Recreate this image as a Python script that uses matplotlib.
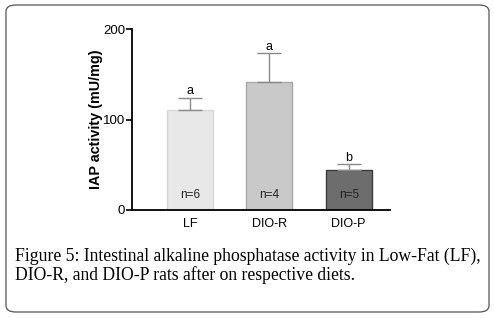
import matplotlib.pyplot as plt
from matplotlib.patches import FancyBboxPatch

# IAP activity per diet group
groups = ['LF', 'DIO-R', 'DIO-P']
means = [111, 141, 44]
errs = [13, 32, 7]
n_labels = ['n=6', 'n=4', 'n=5']
letters = ['a', 'a', 'b']

fill_colors = ['#e8e8e8', '#c9c9c9', '#6d6d6d']
edge_colors = ['#d6d6d6', '#a8a8a8', '#3a3a3a']

fig = plt.figure(figsize=(4.94, 3.18), dpi=100)

# rounded frame round the figure + caption
frame = FancyBboxPatch((6/494, 6/318), 483/494, 307/318,
                       boxstyle='round,pad=0,rounding_size=0.02',
                       transform=fig.transFigure, fill=False,
                       edgecolor='#555555', linewidth=0.9)
fig.patches.append(frame)

ax = fig.add_axes([132/494, 1 - 210/318, 258/494, 181/318])
x = range(len(groups))
ax.bar(x, means, width=0.58, color=fill_colors, edgecolor=edge_colors, linewidth=1.0)
ax.errorbar(x, means, yerr=[[0]*3, errs], fmt='none', ecolor='#8a8a8a',
            elinewidth=1.0, capsize=8.5, capthick=1.0)

for i in x:
    ax.text(i, means[i] + errs[i] + 7, letters[i], ha='center', va='center',
            fontsize=9, family='Liberation Sans')
    ax.text(i, 17, n_labels[i], ha='center', va='center', fontsize=8.5,
            family='Liberation Sans', color='#222222')

ax.set_xlim(-0.73, 2.52)
ax.set_ylim(0, 200)
ax.set_yticks([0, 100, 200])
ax.set_xticks(list(x))
ax.set_xticklabels(groups, family='Liberation Sans', fontsize=9)
for lab in ax.get_yticklabels():
    lab.set_family('Liberation Sans')
    lab.set_fontsize(9.5)
ax.tick_params(axis='x', length=0, pad=6)
ax.tick_params(axis='y', length=4, width=1.2, pad=1)
ax.spines['top'].set_visible(False)
ax.spines['right'].set_visible(False)
ax.spines['left'].set_linewidth(1.3)
ax.spines['bottom'].set_linewidth(1.3)
ax.set_ylabel('IAP activity (mU/mg)', fontsize=10.4, fontweight='bold',
              family='Liberation Sans', labelpad=0)

fig.text(15/494, 1 - 261/318, 'Figure 5: Intestinal alkaline phosphatase activity in Low-Fat (LF),',
         fontsize=12.7, family='Liberation Serif', ha='left', va='baseline')
fig.text(15/494, 1 - 280/318, 'DIO-R, and DIO-P rats after on respective diets.',
         fontsize=12.7, family='Liberation Serif', ha='left', va='baseline')

fig.savefig('out.png', dpi=100)
